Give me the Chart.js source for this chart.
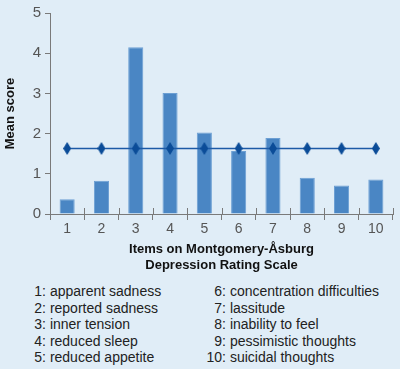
<!DOCTYPE html>
<html lang="en">
<head>
  <meta charset="UTF-8" />
  <title>MADRS item scores</title>
  <script src="https://cdn.jsdelivr.net/npm/chart.js"></script>
  <style>
    body {
      margin: 0;
      background: #e0edf7;
      font-family: 'Liberation Sans', Arial, sans-serif;
    }

    #wrap {
      position: relative;
      width: 400px;
      height: 369px;
    }

    canvas {
      position: absolute;
      left: 0;
      top: 0;
    }

    .items {
      position: absolute;
      top: 283px;
      font-size: 14px;
      line-height: 16.6px;
      color: #222;
      white-space: nowrap;
    }

    .items .num {
      display: inline-block;
      text-align: right;
    }
  </style>
</head>
<body>
  <div id="wrap">
    <canvas id="chart" width="400" height="275"></canvas>
    <div class="items" id="col1" style="left:19px"></div>
    <div class="items" id="col2" style="left:198px"></div>
  </div>

  <script>
    const categories = ['1', '2', '3', '4', '5', '6', '7', '8', '9', '10'];
    const meanScores = [0.37, 0.83, 4.15, 3.01, 2.03, 1.57, 1.89, 0.9, 0.71, 0.86];
    const referenceLine = [1.63, 1.63, 1.63, 1.63, 1.63, 1.63, 1.63, 1.63, 1.63, 1.63];
    const yTicks = [0, 1, 2, 3, 4, 5];
    const itemNames = [
      'apparent sadness', 'reported sadness', 'inner tension', 'reduced sleep',
      'reduced appetite', 'concentration difficulties', 'lassitude',
      'inability to feel', 'pessimistic thoughts', 'suicidal thoughts'
    ];

    // item list below the chart, two columns
    itemNames.forEach((name, i) => {
      const col = document.getElementById(i < 5 ? 'col1' : 'col2');
      const row = document.createElement('div');
      const num = document.createElement('span');
      num.className = 'num';
      num.style.width = i < 5 ? '27px' : '28px';
      num.textContent = categories[i] + ':';
      row.appendChild(num);
      row.appendChild(document.createTextNode(' ' + name));
      col.appendChild(row);
    });

    // diamond marker
    const diamond = document.createElement('canvas');
    diamond.width = 8;
    diamond.height = 13;
    const dctx = diamond.getContext('2d');
    dctx.fillStyle = '#0b4c98';
    dctx.beginPath();
    dctx.moveTo(4, 0);
    dctx.lineTo(8, 6.5);
    dctx.lineTo(4, 13);
    dctx.lineTo(0, 6.5);
    dctx.closePath();
    dctx.fill();

    // x tick marks also poke up above the axis line
    const upperTicks = {
      id: 'upperTicks',
      afterDatasetsDraw(chart) {
        const { ctx, chartArea } = chart;
        const n = categories.length;
        const step = (chartArea.right - chartArea.left) / n;
        ctx.save();
        ctx.strokeStyle = '#7a7a7a';
        ctx.lineWidth = 1;
        for (let i = 1; i <= n; i++) {
          const px = Math.round(chartArea.left + i * step) + 0.5;
          ctx.beginPath();
          ctx.moveTo(px, chartArea.bottom);
          ctx.lineTo(px, chartArea.bottom - 6);
          ctx.stroke();
        }
        ctx.restore();
      }
    };

    new Chart(document.getElementById('chart'), {
      data: {
        labels: categories,
        datasets: [
          {
            type: 'line',
            data: referenceLine,
            borderColor: '#1c5aa6',
            borderWidth: 1.5,
            pointStyle: diamond,
            order: 0
          },
          {
            type: 'bar',
            data: meanScores,
            backgroundColor: '#4a86c4',
            borderColor: '#6c9fd3',
            borderWidth: 1,
            categoryPercentage: 1,
            barPercentage: 0.44,
            order: 1
          }
        ]
      },
      options: {
        responsive: false,
        animation: false,
        layout: { padding: { top: 7, right: 7, bottom: 2, left: 0 } },
        plugins: {
          legend: { display: false },
          tooltip: { enabled: false }
        },
        scales: {
          x: {
            offset: true,
            afterFit: (s) => { s.height = 59; },
            grid: { offset: true, drawOnChartArea: false, tickLength: 6, color: '#7a7a7a' },
            border: { color: '#7a7a7a' },
            ticks: { color: '#555', font: { size: 14, family: 'Liberation Sans' }, padding: 1 },
            title: {
              display: true,
              text: ['Items on Montgomery-Åsburg', 'Depression Rating Scale'],
              color: '#111',
              font: { size: 13, weight: 'bold', family: 'Liberation Sans', lineHeight: 1.23 },
              padding: { top: 4, bottom: 0 }
            }
          },
          y: {
            min: 0,
            max: 5,
            afterFit: (s) => { s.width = 50; },
            afterBuildTicks: (s) => { s.ticks = yTicks.map(v => ({ value: v })); },
            grid: { drawOnChartArea: false, tickLength: 5, color: '#7a7a7a' },
            border: { color: '#7a7a7a' },
            ticks: { color: '#555', font: { size: 15, family: 'Liberation Sans' }, padding: 4 },
            title: {
              display: true,
              text: 'Mean score',
              color: '#111',
              font: { size: 13, weight: 'bold', family: 'Liberation Sans' },
              padding: { top: 3, bottom: 0 }
            }
          }
        }
      },
      plugins: [upperTicks]
    });
  </script>
</body>
</html>
